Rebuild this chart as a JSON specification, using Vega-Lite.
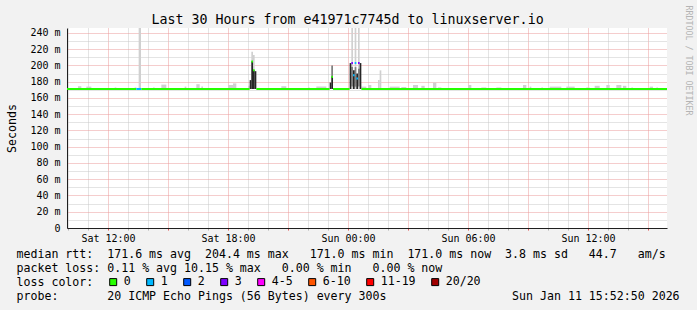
{
  "$schema": "https://vega.github.io/schema/vega-lite/v6.json",
  "width": 600,
  "height": 200,
  "autosize": "none",
  "padding": {"left": 67, "top": 28, "right": 30, "bottom": 82},
  "background": "#f2f2f2",
  "config": {"font": "DejaVu Sans Mono", "view": {"fill": "#ffffff", "stroke": null}},
  "title": {"text": "Last 30 Hours from e41971c7745d to linuxserver.io", "font": "DejaVu Sans Mono", "fontSize": 13.3, "fontWeight": "normal", "color": "#000000", "anchor": "middle", "frame": "group", "dx": -19.5, "baseline": "bottom", "offset": -35},
  "datasets": {
    "smoke": [
      {"t0": "2026-01-10T10:30:00Z", "t1": "2026-01-10T10:40:00Z", "lo": 171.1, "hi": 174.5, "shade": "light"},
      {"t0": "2026-01-10T10:55:00Z", "t1": "2026-01-10T11:10:00Z", "lo": 171.1, "hi": 174, "shade": "light"},
      {"t0": "2026-01-10T12:20:00Z", "t1": "2026-01-10T12:25:00Z", "lo": 171.1, "hi": 173, "shade": "light"},
      {"t0": "2026-01-10T13:20:00Z", "t1": "2026-01-10T13:25:00Z", "lo": 171.1, "hi": 173, "shade": "light"},
      {"t0": "2026-01-10T13:32:00Z", "t1": "2026-01-10T13:39:00Z", "lo": 171.1, "hi": 246.2, "shade": "light"},
      {"t0": "2026-01-10T14:15:00Z", "t1": "2026-01-10T14:20:00Z", "lo": 171.1, "hi": 173, "shade": "light"},
      {"t0": "2026-01-10T14:40:00Z", "t1": "2026-01-10T14:55:00Z", "lo": 171.1, "hi": 176.5, "shade": "light"},
      {"t0": "2026-01-10T15:50:00Z", "t1": "2026-01-10T15:55:00Z", "lo": 171.1, "hi": 174, "shade": "light"},
      {"t0": "2026-01-10T16:25:00Z", "t1": "2026-01-10T16:35:00Z", "lo": 171.1, "hi": 177, "shade": "light"},
      {"t0": "2026-01-10T16:40:00Z", "t1": "2026-01-10T16:45:00Z", "lo": 171.1, "hi": 174, "shade": "light"},
      {"t0": "2026-01-10T18:00:00Z", "t1": "2026-01-10T18:15:00Z", "lo": 171.1, "hi": 176, "shade": "light"},
      {"t0": "2026-01-10T18:15:00Z", "t1": "2026-01-10T18:25:00Z", "lo": 171.1, "hi": 178, "shade": "light"},
      {"t0": "2026-01-10T19:00:00Z", "t1": "2026-01-10T19:05:00Z", "lo": 171.1, "hi": 175, "shade": "light"},
      {"t0": "2026-01-10T19:10:00Z", "t1": "2026-01-10T19:15:00Z", "lo": 171.1, "hi": 217, "shade": "light"},
      {"t0": "2026-01-10T19:15:00Z", "t1": "2026-01-10T19:20:00Z", "lo": 171.1, "hi": 213, "shade": "light"},
      {"t0": "2026-01-10T20:40:00Z", "t1": "2026-01-10T20:55:00Z", "lo": 171.1, "hi": 174.5, "shade": "light"},
      {"t0": "2026-01-10T22:00:00Z", "t1": "2026-01-10T22:05:00Z", "lo": 171.1, "hi": 173, "shade": "light"},
      {"t0": "2026-01-10T22:25:00Z", "t1": "2026-01-10T22:55:00Z", "lo": 171.1, "hi": 174, "shade": "light"},
      {"t0": "2026-01-10T23:10:00Z", "t1": "2026-01-10T23:15:00Z", "lo": 171.1, "hi": 200, "shade": "light"},
      {"t0": "2026-01-11T00:10:00Z", "t1": "2026-01-11T00:15:00Z", "lo": 171.1, "hi": 246.2, "shade": "light"},
      {"t0": "2026-01-11T00:20:00Z", "t1": "2026-01-11T00:25:00Z", "lo": 171.1, "hi": 246.2, "shade": "light"},
      {"t0": "2026-01-11T00:30:00Z", "t1": "2026-01-11T00:35:00Z", "lo": 171.1, "hi": 246.2, "shade": "light"},
      {"t0": "2026-01-11T00:40:00Z", "t1": "2026-01-11T00:55:00Z", "lo": 171.1, "hi": 174, "shade": "light"},
      {"t0": "2026-01-11T01:00:00Z", "t1": "2026-01-11T01:10:00Z", "lo": 171.1, "hi": 176, "shade": "light"},
      {"t0": "2026-01-11T01:30:00Z", "t1": "2026-01-11T01:35:00Z", "lo": 171.1, "hi": 182, "shade": "light"},
      {"t0": "2026-01-11T01:35:00Z", "t1": "2026-01-11T01:40:00Z", "lo": 171.1, "hi": 194, "shade": "light"},
      {"t0": "2026-01-11T02:05:00Z", "t1": "2026-01-11T02:35:00Z", "lo": 171.1, "hi": 174, "shade": "light"},
      {"t0": "2026-01-11T02:40:00Z", "t1": "2026-01-11T02:55:00Z", "lo": 171.1, "hi": 173.5, "shade": "light"},
      {"t0": "2026-01-11T03:15:00Z", "t1": "2026-01-11T03:30:00Z", "lo": 171.1, "hi": 176, "shade": "light"},
      {"t0": "2026-01-11T03:40:00Z", "t1": "2026-01-11T03:50:00Z", "lo": 171.1, "hi": 175, "shade": "light"},
      {"t0": "2026-01-11T04:15:00Z", "t1": "2026-01-11T04:25:00Z", "lo": 171.1, "hi": 179, "shade": "light"},
      {"t0": "2026-01-11T04:30:00Z", "t1": "2026-01-11T04:40:00Z", "lo": 171.1, "hi": 173, "shade": "light"},
      {"t0": "2026-01-11T06:00:00Z", "t1": "2026-01-11T06:10:00Z", "lo": 171.1, "hi": 176, "shade": "light"},
      {"t0": "2026-01-11T06:40:00Z", "t1": "2026-01-11T06:55:00Z", "lo": 171.1, "hi": 173, "shade": "light"},
      {"t0": "2026-01-11T07:25:00Z", "t1": "2026-01-11T07:40:00Z", "lo": 171.1, "hi": 173, "shade": "light"},
      {"t0": "2026-01-11T08:45:00Z", "t1": "2026-01-11T08:55:00Z", "lo": 171.1, "hi": 176, "shade": "light"},
      {"t0": "2026-01-11T09:05:00Z", "t1": "2026-01-11T09:10:00Z", "lo": 171.1, "hi": 174, "shade": "light"},
      {"t0": "2026-01-11T09:40:00Z", "t1": "2026-01-11T09:45:00Z", "lo": 171.1, "hi": 173, "shade": "light"},
      {"t0": "2026-01-11T10:05:00Z", "t1": "2026-01-11T10:40:00Z", "lo": 171.1, "hi": 174, "shade": "light"},
      {"t0": "2026-01-11T10:55:00Z", "t1": "2026-01-11T11:20:00Z", "lo": 171.1, "hi": 174, "shade": "light"},
      {"t0": "2026-01-11T11:55:00Z", "t1": "2026-01-11T12:05:00Z", "lo": 171.1, "hi": 173, "shade": "light"},
      {"t0": "2026-01-11T12:20:00Z", "t1": "2026-01-11T12:35:00Z", "lo": 171.1, "hi": 175, "shade": "light"},
      {"t0": "2026-01-11T12:55:00Z", "t1": "2026-01-11T13:05:00Z", "lo": 171.1, "hi": 176, "shade": "light"},
      {"t0": "2026-01-11T13:25:00Z", "t1": "2026-01-11T13:40:00Z", "lo": 171.1, "hi": 176, "shade": "light"},
      {"t0": "2026-01-11T13:45:00Z", "t1": "2026-01-11T13:55:00Z", "lo": 171.1, "hi": 175, "shade": "light"},
      {"t0": "2026-01-11T14:10:00Z", "t1": "2026-01-11T14:15:00Z", "lo": 171.1, "hi": 173, "shade": "light"},
      {"t0": "2026-01-11T15:05:00Z", "t1": "2026-01-11T15:15:00Z", "lo": 171.1, "hi": 174, "shade": "light"},
      {"t0": "2026-01-11T15:25:00Z", "t1": "2026-01-11T15:30:00Z", "lo": 171.1, "hi": 173, "shade": "light"},
      {"t0": "2026-01-10T23:10:00Z", "t1": "2026-01-10T23:15:00Z", "lo": 186, "hi": 200, "shade": "mid"},
      {"t0": "2026-01-11T00:10:00Z", "t1": "2026-01-11T00:15:00Z", "lo": 174, "hi": 198, "shade": "mid"},
      {"t0": "2026-01-11T00:20:00Z", "t1": "2026-01-11T00:25:00Z", "lo": 174, "hi": 198, "shade": "mid"},
      {"t0": "2026-01-11T00:30:00Z", "t1": "2026-01-11T00:35:00Z", "lo": 174, "hi": 196, "shade": "mid"},
      {"t0": "2026-01-10T19:05:00Z", "t1": "2026-01-10T19:10:00Z", "lo": 171.1, "hi": 182, "shade": "dark"},
      {"t0": "2026-01-10T19:10:00Z", "t1": "2026-01-10T19:15:00Z", "lo": 171.1, "hi": 205, "shade": "dark"},
      {"t0": "2026-01-10T19:15:00Z", "t1": "2026-01-10T19:20:00Z", "lo": 171.1, "hi": 194, "shade": "dark"},
      {"t0": "2026-01-10T19:20:00Z", "t1": "2026-01-10T19:25:00Z", "lo": 171.1, "hi": 193, "shade": "dark"},
      {"t0": "2026-01-10T23:05:00Z", "t1": "2026-01-10T23:10:00Z", "lo": 171.1, "hi": 179, "shade": "dark"},
      {"t0": "2026-01-10T23:10:00Z", "t1": "2026-01-10T23:15:00Z", "lo": 171.1, "hi": 186, "shade": "dark"},
      {"t0": "2026-01-11T00:05:00Z", "t1": "2026-01-11T00:10:00Z", "lo": 171.1, "hi": 203, "shade": "dark"},
      {"t0": "2026-01-11T00:15:00Z", "t1": "2026-01-11T00:20:00Z", "lo": 171.1, "hi": 194, "shade": "dark"},
      {"t0": "2026-01-11T00:25:00Z", "t1": "2026-01-11T00:30:00Z", "lo": 171.1, "hi": 190, "shade": "dark"},
      {"t0": "2026-01-11T00:35:00Z", "t1": "2026-01-11T00:40:00Z", "lo": 171.1, "hi": 203, "shade": "dark"}
    ],
    "median": [
      {"t0": "2026-01-10T09:50:00Z", "t1": "2026-01-10T13:25:00Z", "rtt": 171.1, "loss": "0"},
      {"t0": "2026-01-10T13:25:00Z", "t1": "2026-01-10T13:40:00Z", "rtt": 171.1, "loss": "1"},
      {"t0": "2026-01-10T13:40:00Z", "t1": "2026-01-10T19:05:00Z", "rtt": 171.1, "loss": "0"},
      {"t0": "2026-01-10T19:10:00Z", "t1": "2026-01-10T19:15:00Z", "rtt": 205, "loss": "0"},
      {"t0": "2026-01-10T19:15:00Z", "t1": "2026-01-10T19:20:00Z", "rtt": 194, "loss": "0"},
      {"t0": "2026-01-10T19:25:00Z", "t1": "2026-01-10T23:05:00Z", "rtt": 171.1, "loss": "0"},
      {"t0": "2026-01-10T23:10:00Z", "t1": "2026-01-10T23:15:00Z", "rtt": 186, "loss": "0"},
      {"t0": "2026-01-10T23:15:00Z", "t1": "2026-01-11T00:05:00Z", "rtt": 171.1, "loss": "0"},
      {"t0": "2026-01-11T00:10:00Z", "t1": "2026-01-11T00:15:00Z", "rtt": 203, "loss": "3"},
      {"t0": "2026-01-11T00:15:00Z", "t1": "2026-01-11T00:20:00Z", "rtt": 188, "loss": "1"},
      {"t0": "2026-01-11T00:20:00Z", "t1": "2026-01-11T00:25:00Z", "rtt": 203, "loss": "1"},
      {"t0": "2026-01-11T00:25:00Z", "t1": "2026-01-11T00:30:00Z", "rtt": 184, "loss": "1"},
      {"t0": "2026-01-11T00:30:00Z", "t1": "2026-01-11T00:35:00Z", "rtt": 203, "loss": "3"},
      {"t0": "2026-01-11T00:40:00Z", "t1": "2026-01-11T16:00:00Z", "rtt": 171.1, "loss": "0"}
    ]
  },
  "layer": [
    {
      "data": {"name": "smoke"},
      "mark": {"type": "rect", "clip": true},
      "encoding": {
        "x": {
          "field": "t0", "type": "temporal",
          "scale": {"type": "utc", "domain": [1768039020000, 1768147020000]},
          "axis": {
            "orient": "bottom",
            "values": [1768039200000, 1768042800000, 1768046400000, 1768050000000, 1768053600000, 1768057200000, 1768060800000, 1768064400000, 1768068000000, 1768071600000, 1768075200000, 1768078800000, 1768082400000, 1768086000000, 1768089600000, 1768093200000, 1768096800000, 1768100400000, 1768104000000, 1768107600000, 1768111200000, 1768114800000, 1768118400000, 1768122000000, 1768125600000, 1768129200000, 1768132800000, 1768136400000, 1768140000000, 1768143600000],
            "labelExpr": "utchours(datum.value) % 6 == 0 ? utcFormat(datum.value, '%a %H:%M') : ''",
            "labelFont": "DejaVu Sans Mono", "labelFontSize": 10, "labelColor": "#000000", "labelPadding": 3, "labelFlush": false, "labelOverlap": false,
            "grid": true, "gridDash": [1, 1], "gridWidth": 1,
            "gridColor": {"condition": {"test": "utchours(datum.value) % 3 == 0", "value": "#eb9b9b"}, "value": "#c8c8c8"},
            "ticks": true, "tickSize": 2,
            "tickColor": {"condition": {"test": "utchours(datum.value) % 3 == 0", "value": "#de4f4f"}, "value": "#b0b0b0"},
            "domainColor": "#1f1f1f",
            "title": ["median rtt:\u00a0\u00a0171.6 ms avg\u00a0\u00a0204.4 ms max\u00a0\u00a0\u00a0171.0 ms min\u00a0\u00a0171.0 ms now\u00a0\u00a03.8 ms sd\u00a0\u00a0\u00a044.7\u00a0\u00a0\u00a0am/s", "packet loss: 0.11 % avg 10.15 % max\u00a0\u00a0\u00a00.00 % min\u00a0\u00a0\u00a00.00 % now", "loss color:", "probe:\u00a0\u00a0\u00a0\u00a0\u00a0\u00a0\u00a020 ICMP Echo Pings (56 Bytes) every 300s\u00a0\u00a0\u00a0\u00a0\u00a0\u00a0\u00a0\u00a0\u00a0\u00a0\u00a0\u00a0\u00a0\u00a0\u00a0\u00a0\u00a0\u00a0Sun Jan 11 15:52:50 2026"],
            "titleFont": "DejaVu Sans Mono", "titleFontSize": 11.6, "titleFontWeight": "normal", "titleColor": "#000000",
            "titleAnchor": "start", "titleAlign": "left", "titleBaseline": "top", "titleX": -51, "titleY": 20, "titleLineHeight": 14
          }
        },
        "x2": {"field": "t1"},
        "y": {
          "field": "lo", "type": "quantitative",
          "scale": {"domain": [0, 246.15], "nice": false, "zero": true},
          "axis": {
            "values": [0, 10, 20, 30, 40, 50, 60, 70, 80, 90, 100, 110, 120, 130, 140, 150, 160, 170, 180, 190, 200, 210, 220, 230, 240],
            "labelExpr": "datum.value % 20 != 0 ? '' : (datum.value == 0 ? '0' : datum.value + ' m')",
            "labelFont": "DejaVu Sans Mono", "labelFontSize": 10, "labelColor": "#000000", "labelPadding": 7, "labelOverlap": false, "labelFlush": false,
            "ticks": false, "tickSize": 0,
            "grid": true, "gridDash": [1, 1], "gridWidth": 1,
            "gridColor": {"condition": {"test": "datum.value % 20 == 0", "value": "#eb9b9b"}, "value": "#c8c8c8"},
            "domainColor": "#1f1f1f",
            "title": "Seconds", "titleFont": "DejaVu Sans Mono", "titleFontSize": 11.6, "titleFontWeight": "normal", "titleColor": "#000000", "titlePadding": 12
          }
        },
        "y2": {"field": "hi"},
        "color": {
          "field": "shade", "type": "nominal",
          "scale": {"domain": ["light", "mid", "dark"], "range": ["#d0d0d0", "#808080", "#262626"]},
          "legend": null
        }
      }
    },
    {
      "data": {"name": "median"},
      "mark": {"type": "rule", "strokeWidth": 2, "clip": true},
      "encoding": {
        "x": {"field": "t0", "type": "temporal", "axis": null},
        "x2": {"field": "t1"},
        "y": {
          "field": "rtt", "type": "quantitative",
          "axis": {"orient": "right", "domain": false, "ticks": false, "labels": false, "grid": false,
            "title": "RRDTOOL / TOBI OETIKER", "titleFont": "DejaVu Sans Mono", "titleFontSize": 8.3, "titleFontWeight": "normal", "titleColor": "#b4b4b4",
            "titleAngle": 90, "titleX": 20.5, "titleY": -23, "titleAlign": "left", "titleBaseline": "middle"}
        },
        "color": {
          "field": "loss", "type": "nominal",
          "scale": {"domain": ["0", "1", "2", "3", "4-5", "6-10", "11-19", "20/20"], "range": ["#26ff00", "#00b8ff", "#0059ff", "#7e00ff", "#ff00ff", "#ff5500", "#ff0000", "#a10000"]},
          "legend": null
        }
      }
    },
    {
      "data": {"name": "median"},
      "mark": {"type": "square", "opacity": 0, "clip": true},
      "encoding": {
        "x": {"field": "t0", "type": "temporal", "axis": null},
        "y": {"field": "rtt", "type": "quantitative", "axis": null},
        "color": {
          "field": "loss", "type": "nominal",
          "scale": {"domain": ["0", "1", "2", "3", "4-5", "6-10", "11-19", "20/20"], "range": ["#26ff00", "#00b8ff", "#0059ff", "#7e00ff", "#ff00ff", "#ff5500", "#ff0000", "#a10000"]},
          "legend": {
            "orient": "none", "legendX": 40.4, "legendY": 248, "direction": "horizontal", "padding": 0,
            "title": null,
            "labelFont": "DejaVu Sans Mono", "labelFontSize": 11.6, "labelColor": "#000000", "labelOffset": 4.7, "columnPadding": 13,
            "symbolType": "square", "symbolSize": 49, "symbolOpacity": 1, "symbolStrokeColor": "#000000", "symbolStrokeWidth": 1
          }
        }
      }
    }
  ],
  "resolve": {"scale": {"color": "independent"}, "axis": {"y": "independent", "x": "independent"}}
}
